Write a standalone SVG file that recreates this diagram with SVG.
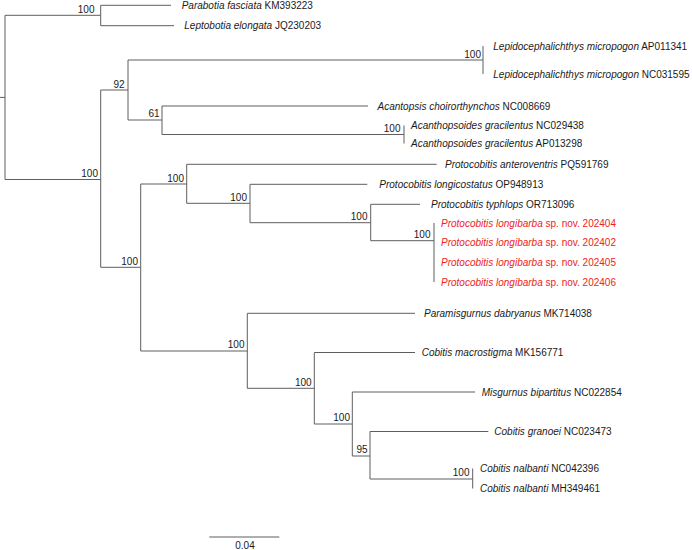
<svg xmlns="http://www.w3.org/2000/svg" width="692" height="550" viewBox="0 0 692 550">
<style>
.br{fill:none;stroke:#5e5e5e;stroke-width:1}
text{font-family:"Liberation Sans",Arial,sans-serif;font-size:10px;fill:#1a1a1a}
.sup{text-anchor:end}
.i{font-style:italic}
.red{fill:#ee2222}
</style>
<rect width="692" height="550" fill="#ffffff"/>
<g id="connectors" class="br">
<path d="M0,97.4H5M5,15.3V179.5M5,15.3H100.7M100.7,5.3V25.7M100.7,5.3H171M100.7,25.7H174"/>
<path d="M5,179.5H100.7M100.7,90V267.3M100.7,90H128M128,60V120M128,60H483M483,46V74M128,120H162M162,106V134.5M162,106H368M162,134.5H404M404,125.5V143.5"/>
<path d="M100.7,267.3H140.7M140.7,184V351M140.7,184H186.7M186.7,164.3V203.3M186.7,164.3H436.7M186.7,203.3H250M250,184.3V222.7M250,184.3H367.3M250,222.7H370.7M370.7,204.3V240.7M370.7,204.3H420M370.7,240.7H434M434,223V282"/>
<path d="M140.7,351H247.3M247.3,313.3V388.3M247.3,313.3H415M247.3,388.3H314.3M314.3,352.5V424M314.3,352.5H415M314.3,424H352.3M352.3,392V456M352.3,392H475M352.3,456H370M370,431.5V479M370,431.5H488.3M370,479H472.7M472.7,468.5V488.5"/>
<path d="M209.3,537H279.3"/>
</g>
<g id="supports">
<g id="n-botiinae"><text class="sup" x="94.5" y="12.5">100</text></g>
<g id="n-cobitidae"><text class="sup" x="98" y="176.5">100</text></g>
<g id="n-92"><text class="sup" x="124.5" y="87.5">92</text></g>
<g id="n-lepido"><text class="sup" x="481" y="57.5">100</text></g>
<g id="n-61"><text class="sup" x="159.5" y="117">61</text></g>
<g id="n-acanth"><text class="sup" x="400.5" y="131.5">100</text></g>
<g id="n-E"><text class="sup" x="138" y="264.5">100</text></g>
<g id="n-F"><text class="sup" x="184" y="181.5">100</text></g>
<g id="n-G"><text class="sup" x="247" y="201">100</text></g>
<g id="n-H"><text class="sup" x="367.5" y="220">100</text></g>
<g id="n-I"><text class="sup" x="430.5" y="238.3">100</text></g>
<g id="n-J"><text class="sup" x="244.5" y="348.3">100</text></g>
<g id="n-K"><text class="sup" x="311.7" y="385.7">100</text></g>
<g id="n-L"><text class="sup" x="350" y="421">100</text></g>
<g id="n-M"><text class="sup" x="367.5" y="453.3">95</text></g>
<g id="n-N"><text class="sup" x="469.5" y="476">100</text></g>
</g>
<g id="leaves">
<g id="t-parabotia"><text x="181.7" y="8.8"><tspan class="i">Parabotia fasciata</tspan> KM393223</text></g>
<g id="t-leptobotia"><text x="184.3" y="29.2"><tspan class="i">Leptobotia elongata</tspan> JQ230203</text></g>
<g id="t-lepido1"><text x="493.3" y="49.5"><tspan class="i">Lepidocephalichthys micropogon</tspan> AP011341</text></g>
<g id="t-lepido2"><text x="493.3" y="77.5"><tspan class="i">Lepidocephalichthys micropogon</tspan> NC031595</text></g>
<g id="t-acantopsis"><text x="377.5" y="109.5"><tspan class="i">Acantopsis choirorthynchos</tspan> NC008669</text></g>
<g id="t-acanth1"><text x="411" y="129"><tspan class="i">Acanthopsoides gracilentus</tspan> NC029438</text></g>
<g id="t-acanth2"><text x="411" y="147"><tspan class="i">Acanthopsoides gracilentus</tspan> AP013298</text></g>
<g id="t-anteroventris"><text x="445" y="167.8"><tspan class="i">Protocobitis anteroventris</tspan> PQ591769</text></g>
<g id="t-longicostatus"><text x="379.3" y="187.8"><tspan class="i">Protocobitis longicostatus</tspan> OP948913</text></g>
<g id="t-typhlops"><text x="431" y="207.8"><tspan class="i">Protocobitis typhlops</tspan> OR713096</text></g>
<g id="t-lb202404"><text class="red" x="441" y="226.5"><tspan class="i">Protocobitis longibarba</tspan> sp. nov. 202404</text></g>
<g id="t-lb202402"><text class="red" x="441" y="246"><tspan class="i">Protocobitis longibarba</tspan> sp. nov. 202402</text></g>
<g id="t-lb202405"><text class="red" x="441" y="265.5"><tspan class="i">Protocobitis longibarba</tspan> sp. nov. 202405</text></g>
<g id="t-lb202406"><text class="red" x="441" y="285.5"><tspan class="i">Protocobitis longibarba</tspan> sp. nov. 202406</text></g>
<g id="t-paramisgurnus"><text x="424" y="316.8"><tspan class="i">Paramisgurnus dabryanus</tspan> MK714038</text></g>
<g id="t-macrostigma"><text x="421.7" y="356"><tspan class="i">Cobitis macrostigma</tspan> MK156771</text></g>
<g id="t-misgurnus"><text x="481.7" y="395.5"><tspan class="i">Misgurnus bipartitus</tspan> NC022854</text></g>
<g id="t-granoei"><text x="494.3" y="435"><tspan class="i">Cobitis granoei</tspan> NC023473</text></g>
<g id="t-nalbanti1"><text x="480" y="472"><tspan class="i">Cobitis nalbanti</tspan> NC042396</text></g>
<g id="t-nalbanti2"><text x="480" y="492"><tspan class="i">Cobitis nalbanti</tspan> MH349461</text></g>
</g>
<g id="scale"><text x="245" y="549" text-anchor="middle">0.04</text></g>
</svg>
